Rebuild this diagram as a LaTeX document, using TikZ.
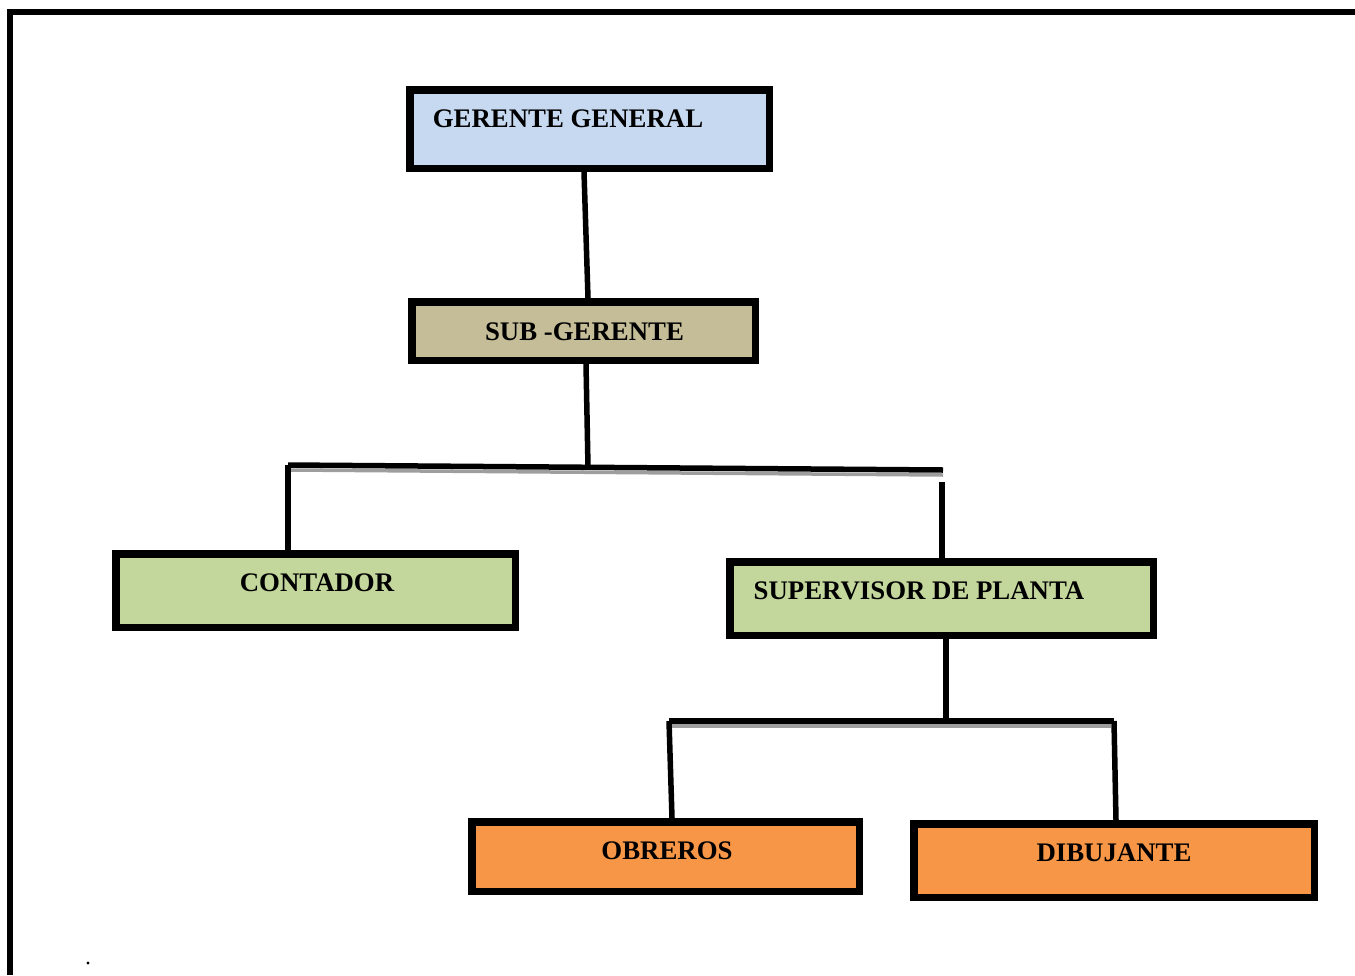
\documentclass[tikz,border=0pt]{standalone}
\usepackage{fontspec}
\setmainfont{Liberation Serif}
\usetikzlibrary{calc}
\definecolor{gerblue}{HTML}{C6D9F1}
\definecolor{subtan}{HTML}{C4BD97}
\definecolor{midgreen}{HTML}{C3D69B}
\definecolor{loworange}{HTML}{F79646}
\tikzset{
  box/.style={draw=black, line width=7.5pt, inner sep=0pt},
  lbl/.style={font=\fontsize{26.8}{31}\selectfont\bfseries, inner sep=0pt},
  link/.style={draw=black, line width=5.5pt},
  shade/.style={draw=black!38, line width=3.5pt},
}
\begin{document}
\begin{tikzpicture}[x=1pt,y=-1pt]
  \useasboundingbox (0,0) rectangle (1355,975);
  % outer frame (open on the right and bottom)
  \draw[line width=6pt] (10,975) -- (10,12) -- (1355,12);

  % boxes
  \node[box, fill=gerblue, minimum width=359.5pt, minimum height=78.5pt] (gg) at (589.5,129) {};
  \node[box, fill=subtan, minimum width=343.5pt, minimum height=58.5pt] (sg) at (583.5,331) {};
  \node[box, fill=midgreen, minimum width=399.5pt, minimum height=73.5pt] (ct) at (315.5,590.5) {};
  \node[box, fill=midgreen, minimum width=423.5pt, minimum height=73.5pt] (sp) at (941.5,598.5) {};
  \node[box, fill=loworange, minimum width=387.5pt, minimum height=69.5pt] (ob) at (665.5,856.5) {};
  \node[box, fill=loworange, minimum width=400.5pt, minimum height=73.5pt] (db) at (1114,860.5) {};

  % labels
  \node[lbl] (tgg) at (568,119) {GERENTE GENERAL};
  \node[lbl] (tsg) at (584.5,332) {SUB -GERENTE};
  \node[lbl] (tct) at (317,583) {CONTADOR};
  \node[lbl] (tsp) at (919,591) {SUPERVISOR DE PLANTA};
  \node[lbl] (tob) at (667,851) {OBREROS};
  \node[lbl] (tdb) at (1114,853) {DIBUJANTE};

  % bus coordinates
  \coordinate (busAL) at (288,465);
  \coordinate (busAR) at (943,470);
  \coordinate (busAM) at (588,467);
  \coordinate (spTop) at (942,482);
  \coordinate (busBL) at (669,721);
  \coordinate (busBR) at (1114,721);
  \coordinate (busBM) at (946,722);

  % gray shading under the bus lines
  \draw[shade] ($(busAL)+(3,5)$) -- ($(busAR)+(0,5)$);
  \draw[shade] ($(busBL)+(3,5)$) -- ($(busBR)+(-3,5)$);

  % connectors
  \draw[link] ($(gg.south)+(-5.5,0)$) -- ($(sg.north)+(4.5,0)$);
  \draw[link] ($(sg.south)+(2.5,0)$) -- (busAM);
  \draw[link] (busAL) -- (busAR);
  \draw[link] (busAL) -- ($(ct.north)+(-27.5,0)$);
  \draw[link] (spTop) -- ($(sp.north)+(0.5,0)$);
  \draw[link] ($(sp.south)+(4.5,0)$) -- (busBM);
  \draw[link] (busBL) -- (busBR);
  \draw[link] (busBL) -- ($(ob.north)+(6.5,0)$);
  \draw[link] (busBR) -- ($(db.north)+(2,0)$);

  % stray dot
  \fill (88,963) circle (1.6pt);
\end{tikzpicture}
\end{document}
